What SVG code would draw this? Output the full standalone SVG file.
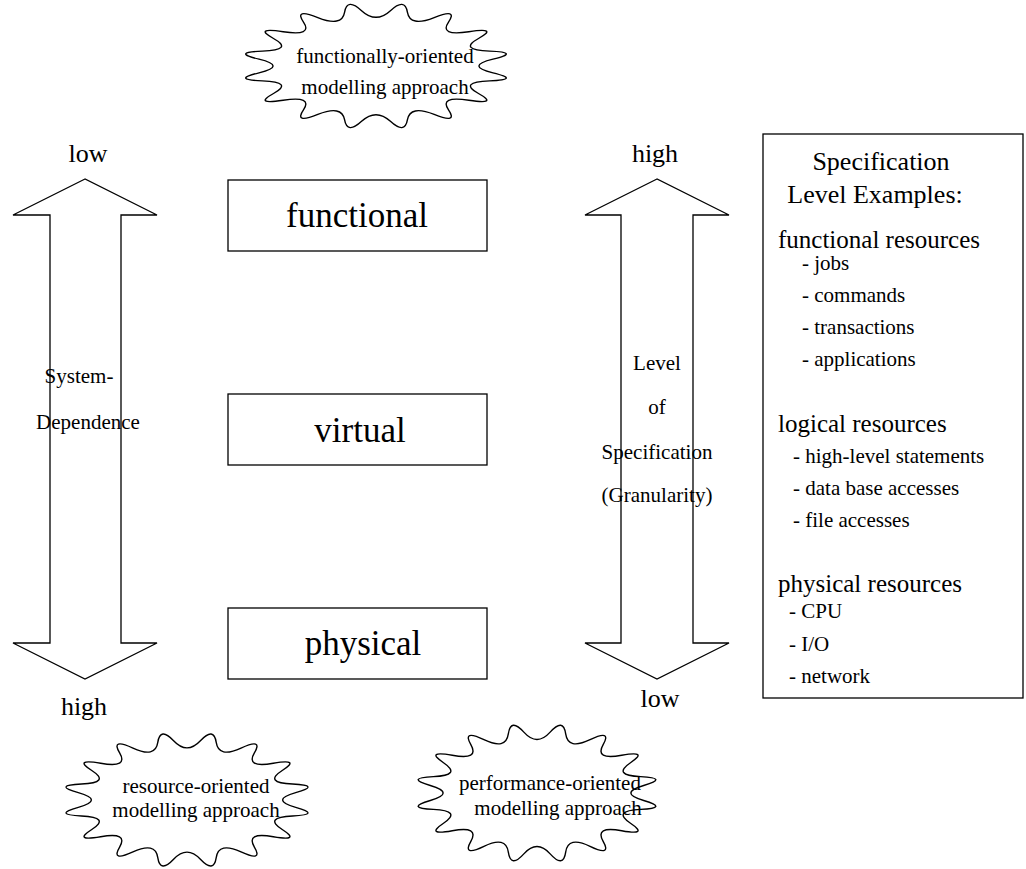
<svg xmlns="http://www.w3.org/2000/svg" xmlns:xlink="http://www.w3.org/1999/xlink" width="1026" height="869" viewBox="0 0 1026 869">
<style>
text { font-family: "Liberation Serif", "Times New Roman", serif; fill: #000; }
.shape { fill: #fff; stroke: #000; stroke-width: 1.3; }
.cloud { fill: #fff; stroke: #000; stroke-width: 1.4; vector-effect: non-scaling-stroke; }
.big { font-size: 35px; text-anchor: middle; }
.end { font-size: 26px; text-anchor: middle; }
.lbl { font-size: 21px; text-anchor: middle; }
.cl { font-size: 21px; text-anchor: middle; }
.hd { font-size: 26px; text-anchor: middle; }
.cat { font-size: 25px; }
.item { font-size: 21px; }
</style>
<defs>
<path id="cloudShape" class="cloud" d="M79.05,-9.75 Q60,0 79.05,9.75 Q98.1,19.5 76.75,21.25 Q55.4,23 69.25,39.3 Q83.1,55.6 62.75,49 Q42.4,42.4 49,62.75 Q55.6,83.1 39.3,69.25 Q23,55.4 21.25,76.75 Q19.5,98.1 9.75,79.05 Q0,60 -9.75,79.05 Q-19.5,98.1 -21.25,76.75 Q-23,55.4 -39.3,69.25 Q-55.6,83.1 -49,62.75 Q-42.4,42.4 -62.75,49 Q-83.1,55.6 -69.25,39.3 Q-55.4,23 -76.75,21.25 Q-98.1,19.5 -79.05,9.75 Q-60,0 -79.05,-9.75 Q-98.1,-19.5 -76.75,-21.25 Q-55.4,-23 -69.25,-39.3 Q-83.1,-55.6 -62.75,-49 Q-42.4,-42.4 -49,-62.75 Q-55.6,-83.1 -39.3,-69.25 Q-23,-55.4 -21.25,-76.75 Q-19.5,-98.1 -9.75,-79.05 Q0,-60 9.75,-79.05 Q19.5,-98.1 21.25,-76.75 Q23,-55.4 39.3,-69.25 Q55.6,-83.1 49,-62.75 Q42.4,-42.4 62.75,-49 Q83.1,-55.6 69.25,-39.3 Q55.4,-23 76.75,-21.25 Q98.1,-19.5 79.05,-9.75 Z"/>
</defs>

<g id="connectors">
  <g id="arrow-system-dependence">
    <polygon class="shape" points="85,179 13,215 50,215 50,643 13,643 85,679 157,643 121,643 121,215 157,215"/>
    <text class="end" x="88" y="162">low</text>
    <text class="end" x="84" y="715">high</text>
    <text class="lbl" x="79" y="383">System-</text>
    <text class="lbl" x="88" y="429">Dependence</text>
  </g>
  <g id="arrow-level-of-specification">
    <polygon class="shape" points="657,179 585,215 621,215 621,643 585,643 657,679 729,643 693,643 693,215 729,215"/>
    <text class="end" x="655" y="162">high</text>
    <text class="end" x="660" y="707">low</text>
    <text class="lbl" x="657" y="370">Level</text>
    <text class="lbl" x="657" y="414">of</text>
    <text class="lbl" x="657" y="459">Specification</text>
    <text class="lbl" x="657" y="502">(Granularity)</text>
  </g>
</g>

<g id="node-functional">
  <rect class="shape" x="228" y="180" width="259" height="71"/>
  <text class="big" x="357" y="227">functional</text>
</g>
<g id="node-virtual">
  <rect class="shape" x="228" y="394" width="259" height="71"/>
  <text class="big" x="360" y="442">virtual</text>
</g>
<g id="node-physical">
  <rect class="shape" x="228" y="608" width="259" height="71"/>
  <text class="big" x="363" y="655">physical</text>
</g>

<g id="cloud-functionally-oriented">
  <use xlink:href="#cloudShape" href="#cloudShape" transform="translate(376,66) scale(1.48,0.7)"/>
  <text class="cl" x="385" y="63">functionally-oriented</text>
  <text class="cl" x="385" y="94">modelling approach</text>
</g>
<g id="cloud-resource-oriented">
  <use xlink:href="#cloudShape" href="#cloudShape" transform="translate(187,800) scale(1.375,0.75)"/>
  <text class="cl" x="196" y="793">resource-oriented</text>
  <text class="cl" x="196" y="817">modelling approach</text>
</g>
<g id="cloud-performance-oriented">
  <use xlink:href="#cloudShape" href="#cloudShape" transform="translate(537,793) scale(1.35,0.77)"/>
  <text class="cl" x="550" y="790">performance-oriented</text>
  <text class="cl" x="558" y="815">modelling approach</text>
</g>

<g id="node-examples">
  <rect class="shape" x="763" y="134" width="260" height="564"/>
  <text class="hd" x="881" y="170">Specification</text>
  <text class="hd" x="875" y="203">Level Examples:</text>
  <text class="cat" x="778" y="248">functional resources</text>
  <text class="item" x="802" y="270">- jobs</text>
  <text class="item" x="802" y="302">- commands</text>
  <text class="item" x="802" y="334">- transactions</text>
  <text class="item" x="802" y="366">- applications</text>
  <text class="cat" x="778" y="432">logical resources</text>
  <text class="item" x="793" y="463">- high-level statements</text>
  <text class="item" x="793" y="495">- data base accesses</text>
  <text class="item" x="793" y="527">- file accesses</text>
  <text class="cat" x="778" y="592">physical resources</text>
  <text class="item" x="789" y="618">- CPU</text>
  <text class="item" x="789" y="651">- I/O</text>
  <text class="item" x="789" y="683">- network</text>
</g>
</svg>
